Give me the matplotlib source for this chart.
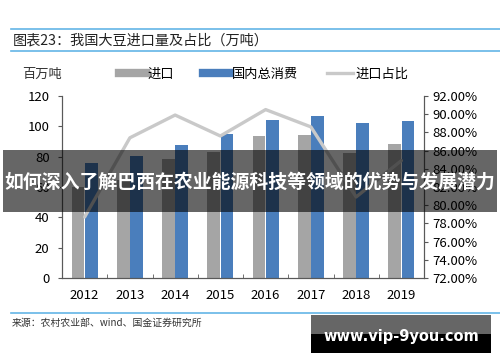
import matplotlib.pyplot as plt
import numpy as np
from matplotlib.lines import Line2D
from matplotlib.patches import Rectangle

plt.rcParams['font.family'] = ['Noto Sans CJK SC', 'DejaVu Sans']

years = ['2012', '2013', '2014', '2015', '2016', '2017', '2018', '2019']
imports = [60.3, 64.3, 78.5, 83.2, 93.6, 94.0, 82.6, 88.4]
consumption = [76.0, 80.5, 87.6, 95.2, 103.9, 106.6, 102.4, 103.8]
import_share = [78.7, 87.4, 89.9, 87.6, 90.5, 88.6, 80.9, 84.9]

gray = '#a5a5a5'
blue = '#4a7ebc'
line_gray = '#c9c9c9'
rule_blue = '#64b5e6'

fig = plt.figure(figsize=(5, 3.62), dpi=100)
ax = fig.add_axes([0.124, 0.232, 0.724, 0.503])
ax2 = ax.twinx()

x = np.arange(len(years))
w = 0.28
ax.bar(x - w / 2 - 0.005, imports, w, color=gray, zorder=2)
ax.bar(x + w / 2 + 0.005, consumption, w, color=blue, zorder=2)
ax2.plot(x, import_share, color=line_gray, lw=2.4, solid_capstyle='round')

ax.set_xlim(-0.5, len(years) - 0.5)
ax.set_ylim(0, 120)
ax.set_yticks(range(0, 121, 20))
ax2.set_ylim(72, 92)
ax2.set_yticks(range(72, 93, 2))
ax2.set_yticklabels([f'{v:.2f}%' for v in range(72, 93, 2)])

ax.set_xticks(x)
ax.set_xticklabels(years)
ax.set_xticks(np.arange(-0.5, len(years)), minor=True)
ax.tick_params(axis='x', which='major', length=0, pad=8, labelsize=9.5)
ax.tick_params(axis='x', which='minor', direction='in', length=3, color='#595959')
ax.tick_params(axis='y', length=3, color='#595959', labelsize=9.5, pad=6)
ax2.tick_params(axis='y', length=3, color='#595959', labelsize=9.5, pad=3)

for a in (ax, ax2):
    a.spines['top'].set_visible(False)
    for s in ('left', 'right', 'bottom'):
        a.spines[s].set_color('#595959')
        a.spines[s].set_linewidth(0.8)

fig.text(0.044, 0.795, '百万吨', fontsize=9.5, va='center', ha='left', color='#333333')
handles = [
    Line2D([0], [0], color=gray, lw=6),
    Line2D([0], [0], color=blue, lw=6),
    Line2D([0], [0], color=line_gray, lw=2.4),
]
fig.legend(handles, ['进口', '国内总消费', '进口占比'], ncol=3, frameon=False,
           loc='center left', bbox_to_anchor=(0.215, 0.795), fontsize=9.5,
           handlelength=2.0, handletextpad=0.15, columnspacing=2.2)

# header and footer rules
for yy in (1 - 29 / 362, 1 - 51 / 362, 1 - 313 / 362):
    fig.add_artist(Line2D([0.022, 1.0], [yy, yy], color=rule_blue, lw=1.2))
fig.text(0.026, 1 - 40 / 362, '图表23：我国大豆进口量及占比（万吨）', fontsize=10.2,
         va='center', ha='left', color='#222222')
fig.text(0.024, 1 - 323 / 362, '来源：农村农业部、wind、国金证券研究所', fontsize=7.1,
         va='center', ha='left', color='#333333')

# overlay banner
fig.add_artist(Rectangle((0.006, 1 - 212 / 362), 0.988, 62 / 362,
                         transform=fig.transFigure, color='black', alpha=0.6, lw=0))
fig.text(0.5, 1 - 182 / 362, '如何深入了解巴西在农业能源科技等领域的优势与发展潜力',
         fontsize=13.6, fontweight='bold', color='white', ha='center', va='center')

# watermark box
fig.add_artist(Rectangle((311 / 500, 1 - 334 / 362), 180 / 500, 19 / 362,
                         transform=fig.transFigure, color='#666666', lw=0))
fig.add_artist(Rectangle((311 / 500, 1 - 353 / 362), 180 / 500, 19 / 362,
                         transform=fig.transFigure, color='black', lw=0))
fig.text(401 / 500, 1 - 337 / 362, 'www.vip-9you.com', fontsize=10.5,
         fontweight='bold', color='white', ha='center', va='center',
         family='DejaVu Sans')

fig.savefig('out.png', dpi=100)
